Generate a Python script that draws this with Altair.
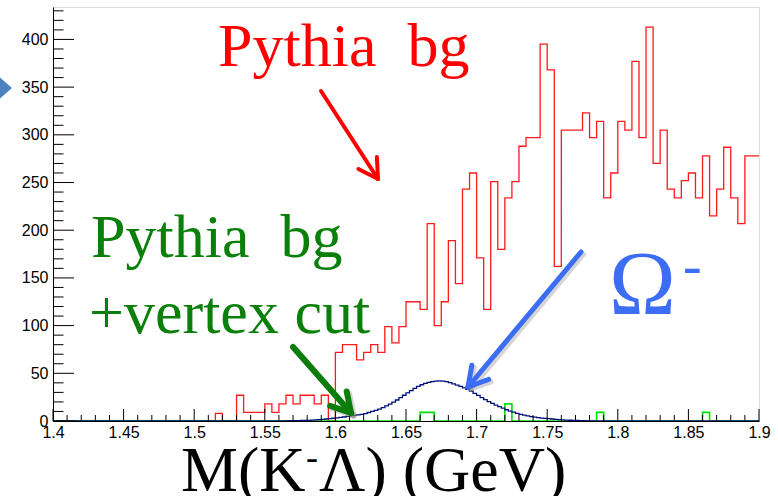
import math
import altair as alt
import pandas as pd

# ---------------- data ----------------
X_MIN, X_MAX = 1.4, 1.9
BIN_W = 0.005                      # 100 bins of 5 MeV
red_bg = [0] * 23 + [
    8, 0, 0, 27, 9, 9, 9, 18, 9, 18, 27, 18, 27, 27, 18, 27, 0,
    72, 80, 80, 64, 72, 80, 72, 99, 82, 99,
    125, 125, 117, 207, 100, 125, 189, 144, 243, 260,
    171, 117, 251, 180, 234, 251, 288, 297, 297, 395,
    368, 162, 305, 305, 305, 323, 297, 314, 234, 260,
    314, 305, 377, 297, 413, 270, 305, 243, 234, 252,
    260, 234, 278, 215, 243, 287, 234, 207, 278, 278]

green_bins = [1.66, 1.665, 1.72, 1.785, 1.86]
green_vals = [9, 9, 18, 9, 9]

OMEGA_START, OMEGA_W = 1.56, 0.0025
omega = [0.2, 0.2, 0.3, 0.3, 0.4, 0.4, 0.5, 0.6, 0.7, 0.9, 1.1, 1.4, 1.7, 2.1, 2.5, 2.9,
         3.2, 3.7, 4.2, 4.8, 5.3, 5.8, 6.4, 7.0, 7.8, 8.9, 10.0, 11.2, 12.5, 14.0, 15.8, 17.6,
         19.7, 22.0, 24.5, 27.0, 29.4, 31.8, 34.2, 36.4, 38.0, 39.4, 40.5, 41.3, 41.8, 42.0,
         41.8, 41.2, 40.3, 39.0, 37.7, 36.2, 34.8, 33.3, 31.2, 29.0, 26.8, 24.6, 22.5, 20.4,
         18.4, 16.6, 15.0, 13.4, 11.8, 10.4, 9.2, 8.0, 7.0, 6.1, 5.3, 4.6, 4.0, 3.5, 3.0,
         2.7, 2.4, 2.1, 1.8, 1.5, 1.2, 1.0, 0.8, 0.6, 0.5, 0.4, 0.3, 0.2]

x_major = [1.4, 1.45, 1.5, 1.55, 1.6, 1.65, 1.7, 1.75, 1.8, 1.85, 1.9]
y_major = [0, 50, 100, 150, 200, 250, 300, 350, 400]
Y_MAX = 434

# ---------------- tables ----------------
nb = len(red_bg)
edges = [round(X_MIN + i * BIN_W, 4) for i in range(nb)]
red_df = pd.DataFrame({"x": edges + [X_MAX], "y": red_bg + [red_bg[-1]]})

green_full = [0] * nb
for b, v in zip(green_bins, green_vals):
    green_full[int(round((b - X_MIN) / BIN_W))] = v
green_df = pd.DataFrame({"x": edges + [X_MAX], "y": green_full + [0]})

om_x = [round(OMEGA_START + i * OMEGA_W, 5) for i in range(len(omega))]
om_end = round(OMEGA_START + len(omega) * OMEGA_W, 5)
blue_df = pd.DataFrame({"x": [X_MIN] + om_x + [om_end, X_MAX],
                        "y": [0] + omega + [0, 0]})

x_minor = [round(X_MIN + i * 0.01, 3) for i in range(51)]
x_minor = [v for v in x_minor if all(abs(v - m) > 1e-6 for m in x_major)]
y_minor = [v for v in range(10, 431, 10) if v % 50 != 0]

# ---------------- layout ----------------
W, H = 706, 414
PL, PT = 53, 7
xs = alt.Scale(domain=[X_MIN, X_MAX], nice=False, zero=False)
ys = alt.Scale(domain=[0, Y_MAX], nice=False)

x_axis = alt.Axis(values=x_major, format=".2~f", title=None, ticks=False, tickSize=0,
                  grid=False, domain=True, domainColor="black", domainWidth=1,
                  labelFont="Liberation Sans", labelFontSize=16, labelColor="black",
                  labelPadding=3, labelFlush=False, labelOverlap=False)
y_axis = alt.Axis(values=y_major, format="d", title=None, ticks=False, tickSize=0,
                  grid=False, domain=True, domainColor="black", domainWidth=1,
                  labelFont="Liberation Sans", labelFontSize=16, labelColor="black",
                  labelPadding=5, labelOverlap=False)


def step(df, color, width):
    return alt.Chart(df).mark_line(interpolate="step-after", color=color,
                                   strokeWidth=width, clip=True).encode(
        x=alt.X("x:Q", scale=xs, axis=x_axis),
        y=alt.Y("y:Q", scale=ys, axis=y_axis))


red = step(red_df, "#ff1a1a", 1.3)
green = step(green_df, "#00e000", 1.6)
blue = step(blue_df, "#00107a", 1.3)

xt_major = alt.Chart(pd.DataFrame({"x": x_major})).mark_rule(color="black", strokeWidth=1).encode(
    x=alt.X("x:Q", scale=xs, axis=x_axis), y=alt.value(H), y2=alt.value(H - 12))
xt_minor = alt.Chart(pd.DataFrame({"x": x_minor})).mark_rule(color="black", strokeWidth=1).encode(
    x=alt.X("x:Q", scale=xs, axis=x_axis), y=alt.value(H), y2=alt.value(H - 6))
yt_major = alt.Chart(pd.DataFrame({"y": y_major})).mark_rule(color="black", strokeWidth=1).encode(
    y=alt.Y("y:Q", scale=ys, axis=y_axis), x=alt.value(0), x2=alt.value(21))
yt_minor = alt.Chart(pd.DataFrame({"y": y_minor})).mark_rule(color="black", strokeWidth=1).encode(
    y=alt.Y("y:Q", scale=ys, axis=y_axis), x=alt.value(0), x2=alt.value(10.5))

dummy = pd.DataFrame({"a": [0]})


def label(text, px, py, size, color, font="Liberation Serif", align="left"):
    return alt.Chart(dummy).mark_text(text=text, font=font, fontSize=size, color=color,
                                      align=align, baseline="alphabetic").encode(
        x=alt.value(px - PL), y=alt.value(py - PT))


def arrow(x0, y0, x1, y1, color, width, head=22, ang=30, shadow=False):
    dx, dy = x0 - x1, y0 - y1
    a = math.atan2(dy, dx)
    segs = [(x0, y0, x1, y1)]
    for s in (-1, 1):
        t = a + s * math.radians(ang)
        segs.append((x1, y1, x1 + head * math.cos(t), y1 + head * math.sin(t)))
    out = []
    if shadow:
        sdf = pd.DataFrame([(p - PL + 2.5, q - PT + 2.5, r - PL + 2.5, u - PT + 2.5)
                            for p, q, r, u in segs], columns=["x", "y", "x2", "y2"])
        out.append(alt.Chart(sdf).mark_rule(color="#888888", opacity=0.35, strokeWidth=width,
                                            strokeCap="round").encode(
            x=alt.X("x:Q", scale=None), y=alt.Y("y:Q", scale=None), x2="x2:Q", y2="y2:Q"))
    df = pd.DataFrame([(p - PL, q - PT, r - PL, u - PT) for p, q, r, u in segs],
                      columns=["x", "y", "x2", "y2"])
    out.append(alt.Chart(df).mark_rule(color=color, strokeWidth=width, strokeCap="round").encode(
        x=alt.X("x:Q", scale=None), y=alt.Y("y:Q", scale=None), x2="x2:Q", y2="y2:Q"))
    return out


RED, GREEN, BLUE = "#ff0000", "#0a800a", "#3c6ef5"
NB = "\u00a0"

texts = [
    label("Pythia" + NB * 2 + "bg", 218, 66, 62, RED),
    label("Pythia" + NB * 2 + "bg", 91, 257, 62, GREEN),
    label("+vertex cut", 89, 333, 62, GREEN),
    label("\u03a9", 609, 314, 90, BLUE),
    label("-", 683, 284, 56, BLUE),
    label("M(K", 181, 491, 64, "black"),
    label("-", 306, 469, 36, "black"),
    label("\u039b) (GeV)", 319, 491, 64, "black"),
]

arrows = (arrow(321, 91, 378, 179, RED, 4)
          + arrow(293, 347, 351, 413, "#0b7d0b", 6, shadow=True)
          + arrow(581, 252, 468, 387, BLUE, 5, shadow=True))

left_head = alt.Chart(dummy).mark_point(shape="M-1,-1L0.15,0L-1,1Z", filled=True,
                                        color="#4f81bd", opacity=1, size=900).encode(
    x=alt.value(9.75 - PL), y=alt.value(88 - PT))

chart = alt.layer(red, green, blue, xt_major, xt_minor, yt_major, yt_minor,
                  *arrows, *texts, left_head).properties(
    width=W, height=H,
    autosize=alt.AutoSizeParams(type="none"),
    padding={"left": PL, "top": PT, "right": 778 - PL - W, "bottom": 496 - PT - H},
).configure_view(stroke="#444444", strokeWidth=1.5).configure(background="white")

chart.save("out.html", embed_options={"renderer": "svg", "actions": False})
